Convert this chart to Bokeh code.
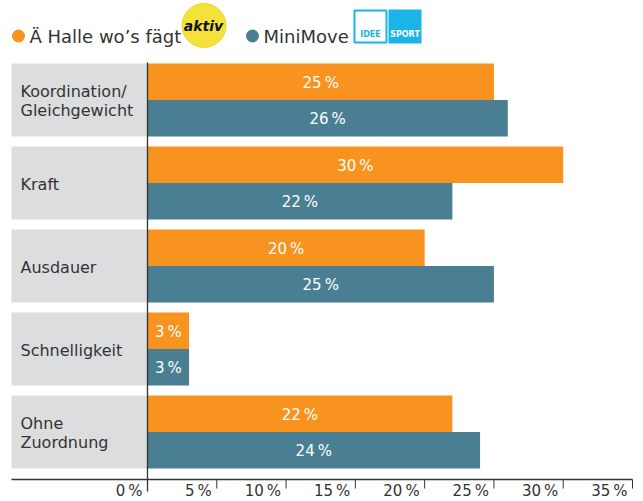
from bokeh.plotting import figure
from bokeh.models import Range1d
from bokeh.core.properties import value
from bokeh.embed import file_html
from bokeh.resources import INLINE

# ---- data ----
categories = ["Koordination/\nGleichgewicht", "Kraft", "Ausdauer", "Schnelligkeit", "Ohne\nZuordnung"]
halle = [25, 30, 20, 3, 22]
minimove = [26, 22, 25, 3, 24]
ticks = [0, 5, 10, 15, 20, 25, 30, 35]
series_names = ["Ä Halle wo’s fägt", "MiniMove"]

ORANGE = "#F7931E"
BLUE = "#4A7F93"
GRAY = "#DCDDDF"
TXT = "#333333"
FONT = value("DejaVu Sans")

W, H = 643, 501
PX_PER_PCT = 485 / 35.0
X0 = 147.0          # canvas x of 0 %
PITCH = 83.0        # px per group
G0 = 99.5           # canvas y of first group centre

def X(px):  # picture px -> data x
    return (px - X0) / PX_PER_PCT

def Y(py):  # picture py -> data y
    return (py - G0) / PITCH

def TY(py, fs):  # baseline position corrected for renderer offset
    return Y(py - 0.33 * fs)

p = figure(width=W, height=H, output_backend="svg", toolbar_location=None,
           x_range=Range1d(X(0), X(W)), y_range=Range1d(Y(H), Y(0)),
           x_axis_location=None, y_axis_location=None, min_border=0)
p.grid.visible = False
p.outline_line_color = None
p.background_fill_color = "white"

n = len(categories)
idx = list(range(n))
GH = 73.0 / PITCH
BH = GH / 2

# grey category boxes
p.hbar(y=idx, left=X(11), right=0, height=GH, fill_color=GRAY, line_color=None)

# bars
p.hbar(y=[i - BH / 2 for i in idx], left=0, right=halle, height=BH, fill_color=ORANGE, line_color=None)
p.hbar(y=[i + BH / 2 for i in idx], left=0, right=minimove, height=BH, fill_color=BLUE, line_color=None)

# value labels
vx, vy, vt = [], [], []
for i in idx:
    for v, yc in ((halle[i], i - BH / 2), (minimove[i], i + BH / 2)):
        vx.append(v / 2)
        vy.append(yc + (5.7 - 0.33 * 15) / PITCH)
        vt.append(f"{v}\u2009%")
p.text(x=vx, y=vy, text=vt, text_color="white", text_font=FONT, text_font_size="15px",
       text_align="center", text_baseline="alphabetic")

# category labels
cx, cy, ct = [], [], []
for i, c in enumerate(categories):
    lines = c.split("\n")
    top = i - GH / 2
    offs = [43.3] if len(lines) == 1 else [33.0, 52.6]
    for ln, o in zip(lines, offs):
        cx.append(X(20))
        cy.append(top + (o - 0.33 * 16) / PITCH)
        ct.append(ln)
p.text(x=cx, y=cy, text=ct, text_color=TXT, text_font=FONT, text_font_size="16px",
       text_align="left", text_baseline="alphabetic")

# axes lines
p.segment(x0=[0], y0=[Y(62)], x1=[0], y1=[Y(491)], line_color=TXT, line_width=1.3)
p.segment(x0=[X(11)], y0=[Y(479)], x1=[X(632)], y1=[Y(479)], line_color=TXT, line_width=1.3)
tk = [t for t in ticks if t > 0]
p.segment(x0=tk, y0=[Y(479)] * len(tk), x1=tk, y1=[Y(488)] * len(tk), line_color=TXT, line_width=1)
p.text(x=ticks, y=[TY(495.5, 15)] * len(ticks), text=[f"{t}\u2009%" for t in ticks], x_offset=-5,
       text_color=TXT, text_font=FONT, text_font_size="15px", text_align="right",
       text_baseline="alphabetic")

# legend
p.scatter(x=[X(18), X(252)], y=[Y(35.5), Y(35.5)], size=13, marker="circle",
          fill_color=[ORANGE, BLUE], line_color=None)
p.text(x=[X(29), X(263)], y=[TY(42.3, 18)] * 2, text=series_names, text_color=TXT,
       text_font=FONT, text_font_size="18px", text_align="left", text_baseline="alphabetic")

# "aktiv" logo
p.scatter(x=[X(203.5)], y=[Y(25)], size=44, marker="circle", fill_color="#F4E23A", line_color="#EFD52A")
p.text(x=[X(203)], y=[TY(30, 14)], text=["aktiv"], text_color="#111111", text_font=FONT,
       text_font_size="14px", text_font_style="bold italic", text_align="center", text_baseline="alphabetic")

# IDEE SPORT logo
LB = "#1AB4E8"
p.quad(left=[X(354)], right=[X(386)], top=[Y(10)], bottom=[Y(42)], fill_color="white",
       line_color=LB, line_width=2)
p.quad(left=[X(388)], right=[X(421)], top=[Y(9)], bottom=[Y(43)], fill_color=LB, line_color=None)
p.text(x=[X(370), X(404.5)], y=[TY(37, 8)] * 2, text=["IDEE", "SPORT"], text_color=[LB, "white"],
       text_font=FONT, text_font_size="8px", text_font_style="bold", text_align="center",
       text_baseline="alphabetic")

open("out.html", "w").write(file_html(p, INLINE))
